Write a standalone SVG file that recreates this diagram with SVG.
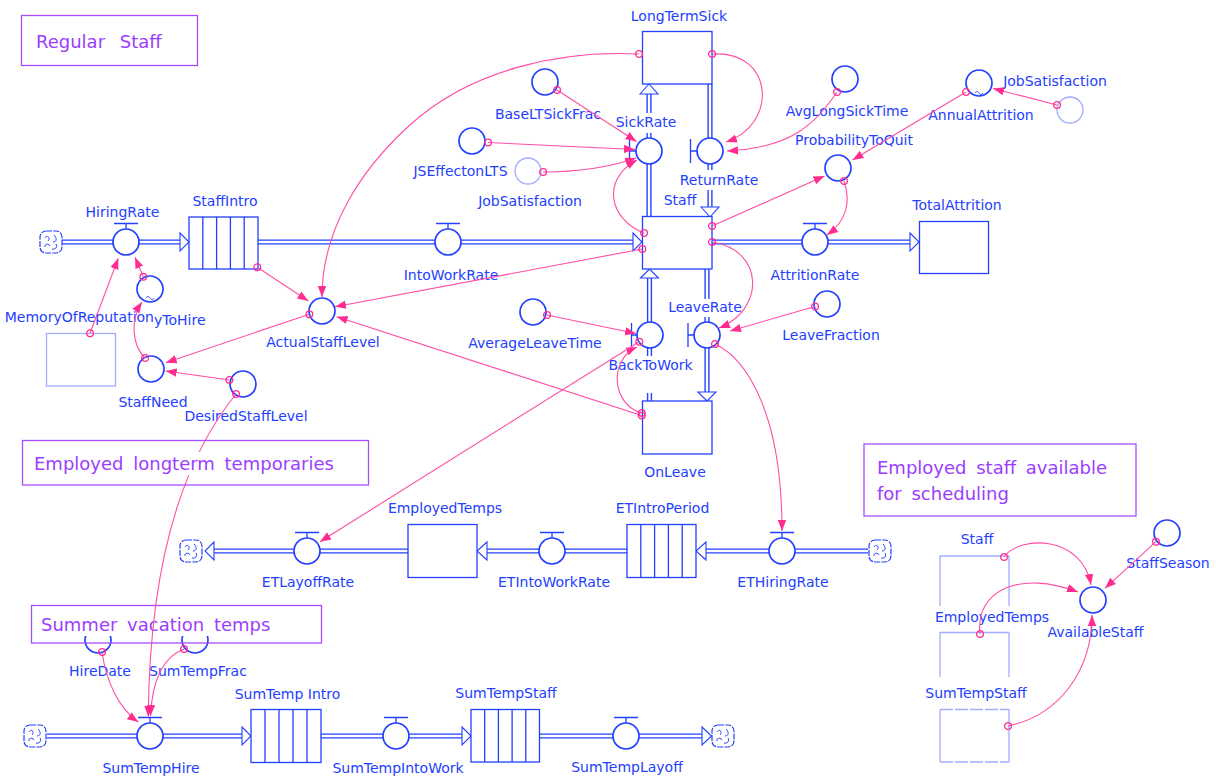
<svg xmlns="http://www.w3.org/2000/svg" xmlns:xlink="http://www.w3.org/1999/xlink" width="1216" height="776" viewBox="0 0 1216 776">
<style>
.stk{fill:#fff;stroke:#2340ff;stroke-width:1.3}
.gst{fill:none;stroke:#a3adff;stroke-width:1.3}
.aux{fill:#fff;stroke:#2340ff;stroke-width:1.7}
.gaux{fill:#fff;stroke:#a3adff;stroke-width:1.3}
.po{fill:none;stroke:#2340ff;stroke-width:5.2}
.pi{fill:none;stroke:#fff;stroke-width:2.4}
.fa{fill:#fff;stroke:#2340ff;stroke-width:1.1}
.vb{fill:none;stroke:#2340ff;stroke-width:1.3}
.lbl{font-family:"DejaVu Sans",sans-serif;font-size:14px;fill:#2340ff;text-anchor:middle}
.bg{fill:#fff}
.nr{fill:none;stroke:#a64dff;stroke-width:1.3}
.nt{font-family:"DejaVu Sans",sans-serif;font-size:18px;fill:#9b3dff;word-spacing:4px}
.cn{fill:none;stroke:#ff4da6;stroke-width:1.1;marker-start:url(#og);marker-end:url(#ah)}
.til{fill:none;stroke:#2340ff;stroke-width:1}
</style>
<defs>
<marker id="ah" markerUnits="userSpaceOnUse" markerWidth="12" markerHeight="10" refX="11" refY="5" orient="auto"><path d="M0,0.8 L11,5 L0,9.2 Z" fill="#ff2d8f"/></marker>
<marker id="og" markerUnits="userSpaceOnUse" markerWidth="10" markerHeight="10" refX="5" refY="5"><circle cx="5" cy="5" r="3.4" fill="none" stroke="#ff2d8f" stroke-width="1.3"/></marker>
<symbol id="cloud" viewBox="0 0 24 24" width="24" height="24"><rect x="1" y="1" width="22" height="22" rx="6" fill="#fff" stroke="#2340ff" stroke-width="1.2" stroke-dasharray="6 1.2"/><path d="M6,8 C8,4 12,8 9,11 M15,5 C18,8 18,12 14,12 M6,17 C5,14 10,13 11,16 M13,19 C16,20 19,17 17,14" fill="none" stroke="#2340ff" stroke-width="1"/></symbol>
</defs>
<rect width="1216" height="776" fill="#fff"/>

<g id="note-regular"><rect class="nr" x="21.5" y="15.5" width="176" height="50"/><text class="nt" x="36" y="47.5" style="word-spacing:9px">Regular Staff</text></g>
<g id="note-available"><rect class="nr" x="864" y="444" width="272" height="72"/><text class="nt" x="877" y="474">Employed staff available</text><text class="nt" x="877" y="500">for scheduling</text></g>

<g id="flows">
<g id="flow-HiringRate"><path class="po" d="M62,242 H180"/><path class="pi" d="M62,242 H180"/><polygon class="fa" points="180,233 189,242 180,251"/><circle class="aux" cx="126" cy="242" r="13"/><path class="vb" d="M114,223.5 H138 M126,223.5 V229"/><text class="lbl" x="122.5" y="217">HiringRate</text></g>
<g id="flow-IntoWorkRate"><path class="po" d="M258,242 H633"/><path class="pi" d="M258,242 H633"/><polygon class="fa" points="633,233 642,242 633,251"/><circle class="aux" cx="448" cy="242" r="13"/><path class="vb" d="M436,223.5 H460 M448,223.5 V229"/><text class="lbl" x="451" y="280">IntoWorkRate</text></g>
<g id="flow-AttritionRate"><path class="po" d="M712,242 H910"/><path class="pi" d="M712,242 H910"/><polygon class="fa" points="910,233 919,242 910,251"/><circle class="aux" cx="815" cy="242" r="13"/><path class="vb" d="M803,223.5 H827 M815,223.5 V229"/><text class="lbl" x="815" y="280">AttritionRate</text></g>
<g id="flow-SickRate"><path class="po" d="M649,217 V94"/><path class="pi" d="M649,217 V94"/><polygon class="fa" points="640,94 649,84 658,94"/><circle class="aux" cx="649" cy="151" r="13"/><path class="vb" d="M629.5,139 V163 M629.5,151 H636"/><rect class="bg" x="615" y="113" width="62" height="20"/><text class="lbl" x="646" y="127">SickRate</text></g>
<g id="flow-ReturnRate"><path class="po" d="M710,84 V207"/><path class="pi" d="M710,84 V207"/><polygon class="fa" points="701,207 710,217 719,207"/><circle class="aux" cx="710" cy="151" r="13"/><path class="vb" d="M690.5,139 V163 M690.5,151 H697"/><rect class="bg" x="679" y="170" width="81" height="20"/><text class="lbl" x="719" y="185">ReturnRate</text></g>
<g id="flow-BackToWork"><path class="po" d="M649.5,401 V278"/><path class="pi" d="M649.5,401 V278"/><polygon class="fa" points="640.5,278 649.5,269 658.5,278"/><circle class="aux" cx="650" cy="335" r="13"/><path class="vb" d="M631.5,323 V347 M631.5,335 H637"/><rect class="bg" x="606" y="356" width="89" height="37"/><text class="lbl" x="650.5" y="370">BackToWork</text></g>
<g id="flow-LeaveRate"><path class="po" d="M707,269 V392"/><path class="pi" d="M707,269 V392"/><polygon class="fa" points="698,392 707,401 716,392"/><circle class="aux" cx="707" cy="335" r="13"/><path class="vb" d="M688,323 V347 M688,335 H694"/><rect class="bg" x="667" y="299" width="76" height="18"/><text class="lbl" x="705" y="312">LeaveRate</text></g>
<g id="flow-ETHiringRate"><path class="po" d="M868,551 H706"/><path class="pi" d="M868,551 H706"/><polygon class="fa" points="706,542 696,551 706,560"/><circle class="aux" cx="782" cy="551" r="13"/><path class="vb" d="M770,532.5 H794 M782,532.5 V538"/><text class="lbl" x="783" y="587">ETHiringRate</text></g>
<g id="flow-ETIntoWorkRate"><path class="po" d="M627,551 H487"/><path class="pi" d="M627,551 H487"/><polygon class="fa" points="487,542 477,551 487,560"/><circle class="aux" cx="552" cy="551" r="13"/><path class="vb" d="M540,532.5 H564 M552,532.5 V538"/><text class="lbl" x="554" y="587">ETIntoWorkRate</text></g>
<g id="flow-ETLayoffRate"><path class="po" d="M408,551 H214"/><path class="pi" d="M408,551 H214"/><polygon class="fa" points="214,542 205,551 214,560"/><circle class="aux" cx="307" cy="551" r="13"/><path class="vb" d="M295,532.5 H319 M307,532.5 V538"/><text class="lbl" x="308" y="587">ETLayoffRate</text></g>
<g id="flow-SumTempHire"><path class="po" d="M47,736 H242"/><path class="pi" d="M47,736 H242"/><polygon class="fa" points="242,727 251,736 242,745"/><circle class="aux" cx="150" cy="736" r="13"/><path class="vb" d="M138,717.5 H162 M150,717.5 V723"/><text class="lbl" x="151" y="773">SumTempHire</text></g>
<g id="flow-SumTempIntoWork"><path class="po" d="M321,736 H462"/><path class="pi" d="M321,736 H462"/><polygon class="fa" points="462,727 471,736 462,745"/><circle class="aux" cx="396" cy="736" r="13"/><path class="vb" d="M384,717.5 H408 M396,717.5 V723"/><text class="lbl" x="398" y="773">SumTempIntoWork</text></g>
<g id="flow-SumTempLayoff"><path class="po" d="M539,736 H702"/><path class="pi" d="M539,736 H702"/><polygon class="fa" points="702,727 711.5,736 702,745"/><circle class="aux" cx="626" cy="736" r="13"/><path class="vb" d="M614,717.5 H638 M626,717.5 V723"/><text class="lbl" x="627" y="772">SumTempLayoff</text></g>
</g>

<g id="clouds">
<g id="cloud-1"><use href="#cloud" x="39" y="230"/></g>
<g id="cloud-2"><use href="#cloud" x="179" y="539"/></g>
<g id="cloud-3"><use href="#cloud" x="868" y="539"/></g>
<g id="cloud-4"><use href="#cloud" x="23" y="724"/></g>
<g id="cloud-5"><use href="#cloud" x="711" y="724"/></g>
</g>

<g id="stocks">
<g id="LongTermSick"><rect class="stk" x="642.5" y="31.5" width="69.5" height="52.5"/><text class="lbl" x="679" y="21">LongTermSick</text></g>
<g id="Staff"><rect class="stk" x="642.5" y="216.5" width="69.5" height="52.5"/><text class="lbl" x="680" y="205">Staff</text></g>
<g id="OnLeave"><rect class="stk" x="642.5" y="401" width="69.5" height="53"/><text class="lbl" x="675" y="477">OnLeave</text></g>
<g id="TotalAttrition"><rect class="stk" x="919.5" y="221.5" width="69" height="52"/><text class="lbl" x="957" y="210">TotalAttrition</text></g>
<g id="EmployedTemps"><rect class="stk" x="408" y="524.5" width="69" height="53"/><text class="lbl" x="445" y="513">EmployedTemps</text></g>
<g id="StaffIntro"><rect class="stk" x="189" y="217" width="69" height="52"/><path class="vb" d="M202.8,217 V269 M216.6,217 V269 M230.4,217 V269 M244.2,217 V269"/><text class="lbl" x="225" y="206">StaffIntro</text></g>
<g id="ETIntroPeriod"><rect class="stk" x="627" y="524.5" width="69" height="53"/><path class="vb" d="M640.8,524.5 V577.5 M654.6,524.5 V577.5 M668.4,524.5 V577.5 M682.2,524.5 V577.5"/><text class="lbl" x="662.5" y="513">ETIntroPeriod</text></g>
<g id="SumTempIntro"><rect class="stk" x="251" y="709.5" width="70" height="53"/><path class="vb" d="M265,709.5 V762.5 M279,709.5 V762.5 M293,709.5 V762.5 M307,709.5 V762.5"/><text class="lbl" x="287.5" y="699">SumTemp Intro</text></g>
<g id="SumTempStaff"><rect class="stk" x="471" y="709.5" width="68.5" height="52.5"/><path class="vb" d="M484.7,709.5 V762 M498.4,709.5 V762 M512.1,709.5 V762 M525.8,709.5 V762"/><text class="lbl" x="506" y="698">SumTempStaff</text></g>
<g id="MemoryOfReputation"><rect class="gst" x="46.5" y="333.5" width="69" height="52.5"/><text class="lbl" x="154" y="322" style="text-anchor:end">MemoryOfReputation</text></g>
<g id="ghost-Staff"><path class="gst" d="M940,606 V556 H1009 V606"/><text class="lbl" x="977" y="544">Staff</text></g>
<g id="ghost-EmployedTemps"><path class="gst" d="M940,677 V632.5 H1009 V677"/><text class="lbl" x="992" y="622">EmployedTemps</text></g>
<g id="ghost-SumTempStaff"><path class="gst" d="M940,709.5 V762 M1009,709.5 V762"/><path class="gst" d="M940,709.5 H1009 M940,762 H1009" stroke-dasharray="13 2"/><text class="lbl" x="976" y="698">SumTempStaff</text></g>
</g>

<g id="auxiliaries">
<g id="BaseLTSickFrac"><circle class="aux" cx="545" cy="82" r="13"/><text class="lbl" x="548" y="119">BaseLTSickFrac</text></g>
<g id="JSEffectonLTS"><circle class="aux" cx="472" cy="141" r="13"/><text class="lbl" x="460.5" y="176">JSEffectonLTS</text></g>
<g id="JobSatisfaction-ghost1"><circle class="gaux" cx="528" cy="171" r="13"/><text class="lbl" x="530" y="206">JobSatisfaction</text></g>
<g id="AvgLongSickTime"><circle class="aux" cx="845" cy="79" r="13"/><text class="lbl" x="847" y="116">AvgLongSickTime</text></g>
<g id="AnnualAttrition"><circle class="aux" cx="979" cy="83" r="13"/><path class="til" d="M975,93 c1.3,-2 2.7,-2 4,0 s2.7,2 4,0"/><text class="lbl" x="981" y="120">AnnualAttrition</text></g>
<g id="JobSatisfaction-ghost2"><circle class="gaux" cx="1070" cy="110" r="13"/><text class="lbl" x="1055" y="86">JobSatisfaction</text></g>
<g id="ProbabilityToQuit"><circle class="aux" cx="838" cy="168" r="13"/><text class="lbl" x="854" y="145">ProbabilityToQuit</text></g>
<g id="ActualStaffLevel"><circle class="aux" cx="322" cy="311" r="13"/><text class="lbl" x="323" y="347">ActualStaffLevel</text></g>
<g id="PressureToHire"><circle class="aux" cx="150" cy="289" r="13"/><path class="til" d="M146,298 c1.3,-2 2.7,-2 4,0 s2.7,2 4,0"/><text class="lbl" x="154" y="325" style="text-anchor:start">yToHire</text></g>
<g id="StaffNeed"><circle class="aux" cx="151" cy="369" r="13"/><text class="lbl" x="153" y="407">StaffNeed</text></g>
<g id="DesiredStaffLevel"><circle class="aux" cx="243" cy="384" r="13"/><text class="lbl" x="246" y="421">DesiredStaffLevel</text></g>
<g id="AverageLeaveTime"><circle class="aux" cx="533" cy="312" r="13"/><text class="lbl" x="535" y="348">AverageLeaveTime</text></g>
<g id="LeaveFraction"><circle class="aux" cx="827" cy="304" r="13"/><text class="lbl" x="831" y="340">LeaveFraction</text></g>
<g id="HireDate"><circle class="aux" cx="98" cy="640" r="13"/><text class="lbl" x="100" y="676">HireDate</text></g>
<g id="SumTempFrac"><circle class="aux" cx="195" cy="640" r="13"/><text class="lbl" x="198" y="676">SumTempFrac</text></g>
<g id="AvailableStaff"><circle class="aux" cx="1093" cy="600" r="13"/><text class="lbl" x="1095.5" y="637">AvailableStaff</text></g>
<g id="StaffSeason"><circle class="aux" cx="1167" cy="533" r="13"/><text class="lbl" x="1168" y="568">StaffSeason</text></g>
</g>

<g id="note-summer"><rect class="bg" x="38" y="612" width="272" height="24"/><rect class="nr" x="31.5" y="605.5" width="290" height="37.5"/><text class="nt" x="41" y="630.5">Summer vacation temps</text></g>

<g id="connectors">
<path class="cn" d="M639,54 C560,50 470,70 410,125 C360,170 322,230 322,297"/>
<path class="cn" d="M557,90 L636.5,141.5"/>
<path class="cn" d="M488,142.5 L635,149.5"/>
<path class="cn" d="M543,172 C575,172 610,167 636,158"/>
<path class="cn" d="M644,233 C610,220 600,180 637,160"/>
<path class="cn" d="M712,54 C775,50 778,125 726,142"/>
<path class="cn" d="M837,92 C815,125 790,148 727,151"/>
<path class="cn" d="M1057,105 L993,88.5"/>
<path class="cn" d="M966,92 L852.5,160"/>
<path class="cn" d="M712,226 L824.5,176"/>
<path class="cn" d="M844,181 C852,205 845,222 827,235"/>
<path class="cn" d="M712,242 C765,250 765,310 719,328"/>
<path class="cn" d="M815,306.5 L730,331"/>
<path class="cn" d="M715,344 C745,358 782,410 782,531"/>
<path class="cn" d="M547,315 L636,333.5"/>
<path class="cn" d="M641.7,413 C612,405 608,360 637,347"/>
<path class="cn" d="M639.3,341.7 L320,541.7"/>
<path class="cn" d="M641.7,415.5 L336.7,316.7"/>
<path class="cn" d="M642.3,249 L335,306.7"/>
<path class="cn" d="M257.3,267.3 L308.3,301"/>
<path class="cn" d="M309.3,314.3 L165.7,362.7"/>
<path class="cn" d="M229.3,380 L165.7,371"/>
<path class="cn" d="M145,358 C132,345 130,320 142,302"/>
<path class="cn" d="M143.3,276.7 L135,257.3"/>
<path class="cn" d="M90,333.3 L118.3,258.3"/>
<path class="cn" d="M236,394 Q150,500 148.3,716.7"/>
<path class="cn" d="M102,652 C106,680 118,708 138.3,722"/>
<path class="cn" d="M184,649 C160,658 152,685 150.5,716"/>
<path class="cn" d="M1004,557 C1020,535 1082,535 1091,585"/>
<path class="cn" d="M980,634 C975,590 1020,570 1078,592"/>
<path class="cn" d="M1008,726 C1060,715 1092,670 1092,615"/>
<path class="cn" d="M1156,541.7 L1105,588.3"/>
</g>

<g id="note-longterm"><rect class="bg" x="30" y="452" width="310" height="23"/><rect class="nr" x="22.5" y="440.5" width="346" height="44.5"/><text class="nt" x="34" y="469.5">Employed longterm temporaries</text></g>
</svg>
